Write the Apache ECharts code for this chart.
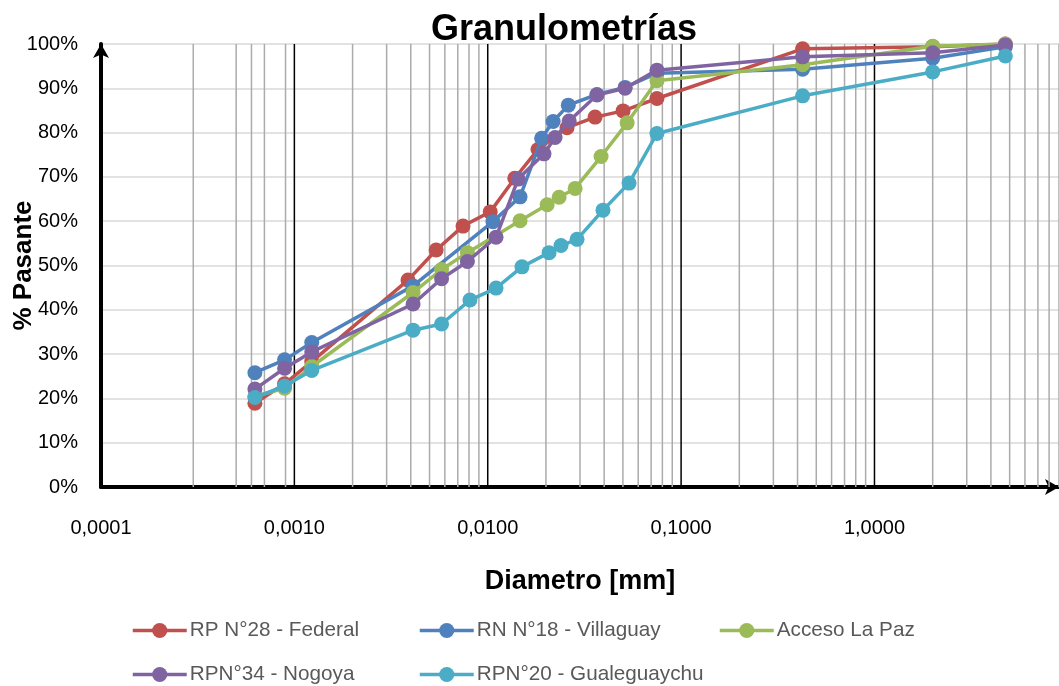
<!DOCTYPE html>
<html>
<head>
<meta charset="utf-8">
<script src="https://cdn.jsdelivr.net/npm/echarts@6/dist/echarts.min.js"></script>
<style>
  html, body { margin: 0; padding: 0; background: #fff; }
  #chart { width: 1059px; height: 686px; }
</style>
</head>
<body>
<div id="chart"></div>
<script>
// nombres de las series
const seriesNames = ['RP N°28 - Federal', 'RN N°18 - Villaguay', 'Acceso La Paz', 'RPN°34 - Nogoya', 'RPN°20 - Gualeguaychu']

// diametros [mm] y % pasante
const federalX = [0.000625, 0.00089, 0.00123, 0.00387, 0.00541, 0.00745, 0.0103, 0.0138, 0.0182, 0.0257, 0.0359, 0.0501, 0.075, 0.425, 2.0, 4.75]
const federalY = [18.9, 23.3, 28.3, 46.7, 53.5, 58.9, 62.1, 69.7, 76.2, 81.1, 83.5, 84.9, 87.7, 98.9, 99.4, 100]

const villaguayX = [0.000625, 0.00089, 0.00123, 0.00411, 0.01064, 0.01469, 0.0190, 0.02178, 0.0261, 0.0367, 0.0513, 0.075, 0.425, 2.0, 4.75]
const villaguayY = [25.8, 28.7, 32.6, 45.4, 59.9, 65.5, 78.7, 82.5, 86.2, 88.6, 90.2, 93.4, 94.3, 96.8, 99.4]

const lapazX = [0.000625, 0.00089, 0.00123, 0.00411, 0.00577, 0.00785, 0.01469, 0.02029, 0.02339, 0.02831, 0.03855, 0.0526, 0.075, 0.425, 2.0, 4.75]
const lapazY = [20.5, 22.3, 27.2, 43.9, 49.1, 52.9, 60.1, 63.7, 65.4, 67.4, 74.6, 82.2, 91.7, 95.3, 99.5, 100]

const nogoyaX = [0.000625, 0.00089, 0.00123, 0.00411, 0.00577, 0.00785, 0.01104, 0.01436, 0.01954, 0.02229, 0.02637, 0.03673, 0.0513, 0.075, 0.425, 2.0, 4.75]
const nogoyaY = [22.1, 26.8, 30.5, 41.3, 47.0, 50.9, 56.4, 69.5, 75.2, 78.9, 82.6, 88.5, 90.0, 94.1, 97.1, 98.0, 99.8]

const gualeX = [0.000625, 0.00089, 0.00123, 0.00411, 0.00577, 0.00809, 0.01104, 0.01503, 0.02076, 0.02393, 0.02897, 0.03945, 0.0538, 0.075, 0.425, 2.0, 4.75]
const gualeY = [20.2, 22.8, 26.3, 35.4, 36.8, 42.2, 44.9, 49.7, 52.9, 54.5, 55.9, 62.5, 68.6, 79.8, 88.3, 93.7, 97.3]

// lineas verticales de la grilla logaritmica
const majorLines = [0.001, 0.01, 0.1, 1]
const minorLines = [0.0003, 0.0005, 0.0006, 0.0007, 0.0009,
    0.002, 0.003, 0.004, 0.005, 0.006, 0.007, 0.008, 0.009,
    0.02, 0.03, 0.04, 0.05, 0.06, 0.07, 0.08, 0.09,
    0.2, 0.3, 0.4, 0.5, 0.6, 0.7, 0.8, 0.9,
    2, 3, 4, 5, 6, 7, 8, 9]

const colors = ['#C0504D', '#4F81BD', '#9BBB59', '#8064A2', '#4BACC6']
const xs = [federalX, villaguayX, lapazX, nogoyaX, gualeX]
const ys = [federalY, villaguayY, lapazY, nogoyaY, gualeY]

const FONT = '"Liberation Sans", Arial, sans-serif'

const legendPos = [[131, 620], [418, 620], [718, 620], [131, 664], [418, 664]]

function fmtX (v) {
    const l = Math.log10(v)
    if (Math.abs(l - Math.round(l)) > 1e-6) return ''
    return v.toFixed(4).replace('.', ',')
}

// una linea vertical = serie de dos puntos, de 0% a 100%
function vLine (v, color) {
    return {
        type: 'line',
        data: [[v, 0], [v, 100]],
        showSymbol: false,
        symbol: 'none',
        silent: true,
        lineStyle: { color: color, width: 1.5 },
        z: 1
    }
}

const chart = echarts.init(document.getElementById('chart'), null, { renderer: 'canvas' })

const series = minorLines.map(v => vLine(v, '#ababab'))
    .concat(majorLines.map(v => vLine(v, '#000')))

seriesNames.forEach((name, i) => {
    series.push({
        name: name,
        type: 'line',
        data: xs[i].map((x, j) => [x, ys[i][j]]),
        symbol: 'circle',
        symbolSize: 15,
        color: colors[i],
        lineStyle: { width: 3.5, color: colors[i] },
        itemStyle: { color: colors[i] },
        z: 10 + i
    })
})

chart.setOption({
    animation: false,
    title: {
        text: 'Granulometrías',
        left: 426,
        top: 7,
        textStyle: { fontFamily: FONT, fontSize: 36, fontWeight: 'bold', color: '#000' }
    },
    legend: seriesNames.map((name, i) => ({
        data: [name],
        left: legendPos[i][0],
        top: legendPos[i][1],
        padding: 0,
        itemWidth: 54,
        itemHeight: 19,
        lineStyle: { width: 3.5 },
        textStyle: { fontFamily: FONT, fontSize: 20.7, color: '#595959', padding: [0, 0, 0, -2] }
    })),
    grid: {
        left: 101,
        right: 0,
        top: 44,
        bottom: 199,
        containLabel: false,
        outerBoundsMode: 'none'
    },
    xAxis: {
        type: 'log',
        logBase: 10,
        min: 0.0001,
        max: 9.0,
        name: 'Diametro [mm]',
        nameLocation: 'middle',
        nameGap: 81,
        nameMoveOverlap: false,
        nameTextStyle: { fontFamily: FONT, fontSize: 27, fontWeight: 'bold', color: '#000' },
        axisLine: { show: true, symbol: ['none', 'arrow'], symbolSize: [12, 14], lineStyle: { color: '#000', width: 4 } },
        axisTick: { show: false },
        splitLine: { show: false },
        axisLabel: {
            margin: 31,
            fontFamily: FONT,
            fontSize: 20,
            color: '#000',
            showMaxLabel: false,
            formatter: fmtX
        }
    },
    yAxis: {
        type: 'value',
        min: 0,
        max: 100,
        interval: 10,
        name: '% Pasante',
        nameLocation: 'middle',
        nameRotate: 90,
        nameGap: 64,
        nameMoveOverlap: false,
        nameTextStyle: { fontFamily: FONT, fontSize: 26, fontWeight: 'bold', color: '#000' },
        axisLine: { show: true, symbol: ['none', 'arrow'], symbolSize: [12, 14], lineStyle: { color: '#000', width: 4 } },
        axisTick: { show: false },
        splitLine: { show: true, lineStyle: { color: '#d9d9d9', width: 1.5 } },
        axisLabel: {
            margin: 23,
            fontFamily: FONT,
            fontSize: 20,
            color: '#000',
            formatter: '{value}%'
        }
    },
    series: series
})
</script>
</body>
</html>
